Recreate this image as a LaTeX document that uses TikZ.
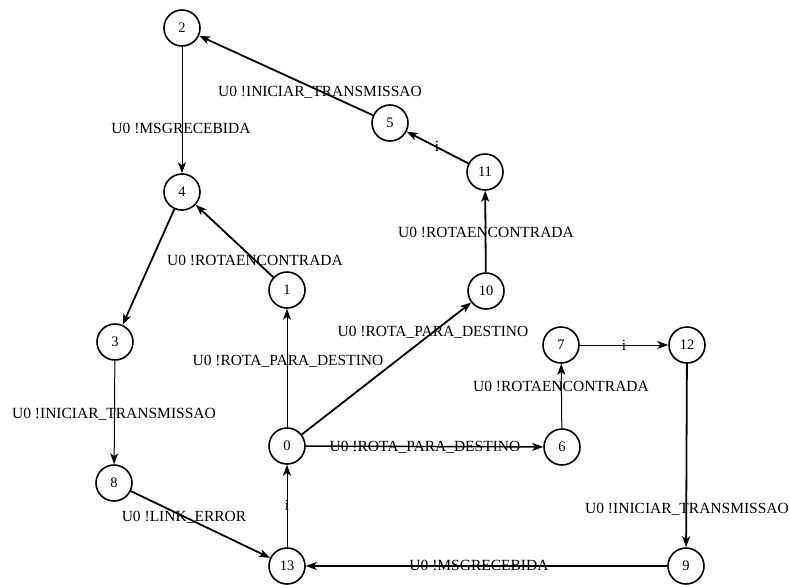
\documentclass[tikz,border=0pt]{standalone}
\usepackage{fontspec}
\setmainfont{Liberation Serif}
\usetikzlibrary{arrows.meta}
\begin{document}
\begin{tikzpicture}[x=1pt,y=-1pt,
  state/.style={circle,draw,line width=1.6pt,minimum size=36pt,inner sep=0pt,
    font=\fontsize{14.5}{16}\selectfont},
  lbl/.style={inner sep=0pt,font=\fontsize{15.5}{18}\selectfont},
  tr/.style={line width=1pt,-{Stealth[length=11pt,width=8pt,inset=3pt]}},
  trb/.style={tr,line width=1.8pt}]
\useasboundingbox (0,0) rectangle (790,584);
% states
\node[state] (n0) at (287,446) {0};
\node[state] (n1) at (287,290) {1};
\node[state] (n2) at (182,28) {2};
\node[state] (n3) at (115,342) {3};
\node[state] (n4) at (182,192) {4};
\node[state] (n5) at (390,123) {5};
\node[state] (n6) at (562,447) {6};
\node[state] (n7) at (561,345) {7};
\node[state] (n8) at (114,483) {8};
\node[state] (n9) at (686,566) {9};
\node[state] (n10) at (486,291) {10};
\node[state] (n11) at (485,172) {11};
\node[state] (n12) at (687,345) {12};
\node[state] (n13) at (287,566) {13};
% transitions
\draw[tr]  (n2) -- (n4);
\draw[trb] (n5) -- (n2);
\draw[trb] (n11) -- (n5);
\draw[trb] (n10) -- (n11);
\draw[trb] (n1) -- (n4);
\draw[trb] (n4) -- (n3);
\draw[tr]  (n3) -- (n8);
\draw[trb] (n8) -- (n13);
\draw[tr]  (n13) -- (n0);
\draw[tr]  (n0) -- (n1);
\draw[trb] (n0) -- (n10);
\draw[tr,line width=1.4pt] (n0) -- (n6);
\draw[tr]  (n6) -- (n7);
\draw[tr]  (n7) -- (n12);
\draw[trb] (n12) -- (n9);
\draw[trb] (n9) -- (n13);
% transition labels
\node[lbl] (l24) at (181,128) {U0 !MSGRECEBIDA};
\node[lbl] (l52) at (320,92) {U0 !INICIAR\_TRANSMISSAO};
\node[lbl] (l115) at (437,146) {i};
\node[lbl] (l1011) at (486,232) {U0 !ROTAENCONTRADA};
\node[lbl] (l14) at (255,260) {U0 !ROTAENCONTRADA};
\node[lbl] (l01) at (288,361) {U0 !ROTA\_PARA\_DESTINO};
\node[lbl] (l010) at (433,332) {U0 !ROTA\_PARA\_DESTINO};
\node[lbl] (l38) at (114,414) {U0 !INICIAR\_TRANSMISSAO};
\node[lbl] (l813) at (184,517) {U0 !LINK\_ERROR};
\node[lbl] (l130) at (287,505) {i};
\node[lbl] (l06) at (425,447) {U0 !ROTA\_PARA\_DESTINO};
\node[lbl] (l67) at (561,386) {U0 !ROTAENCONTRADA};
\node[lbl] (l712) at (624,345) {i};
\node[lbl] (l129) at (687,509) {U0 !INICIAR\_TRANSMISSAO};
\node[lbl] (l913) at (479,565) {U0 !MSGRECEBIDA};
\end{tikzpicture}
\end{document}
